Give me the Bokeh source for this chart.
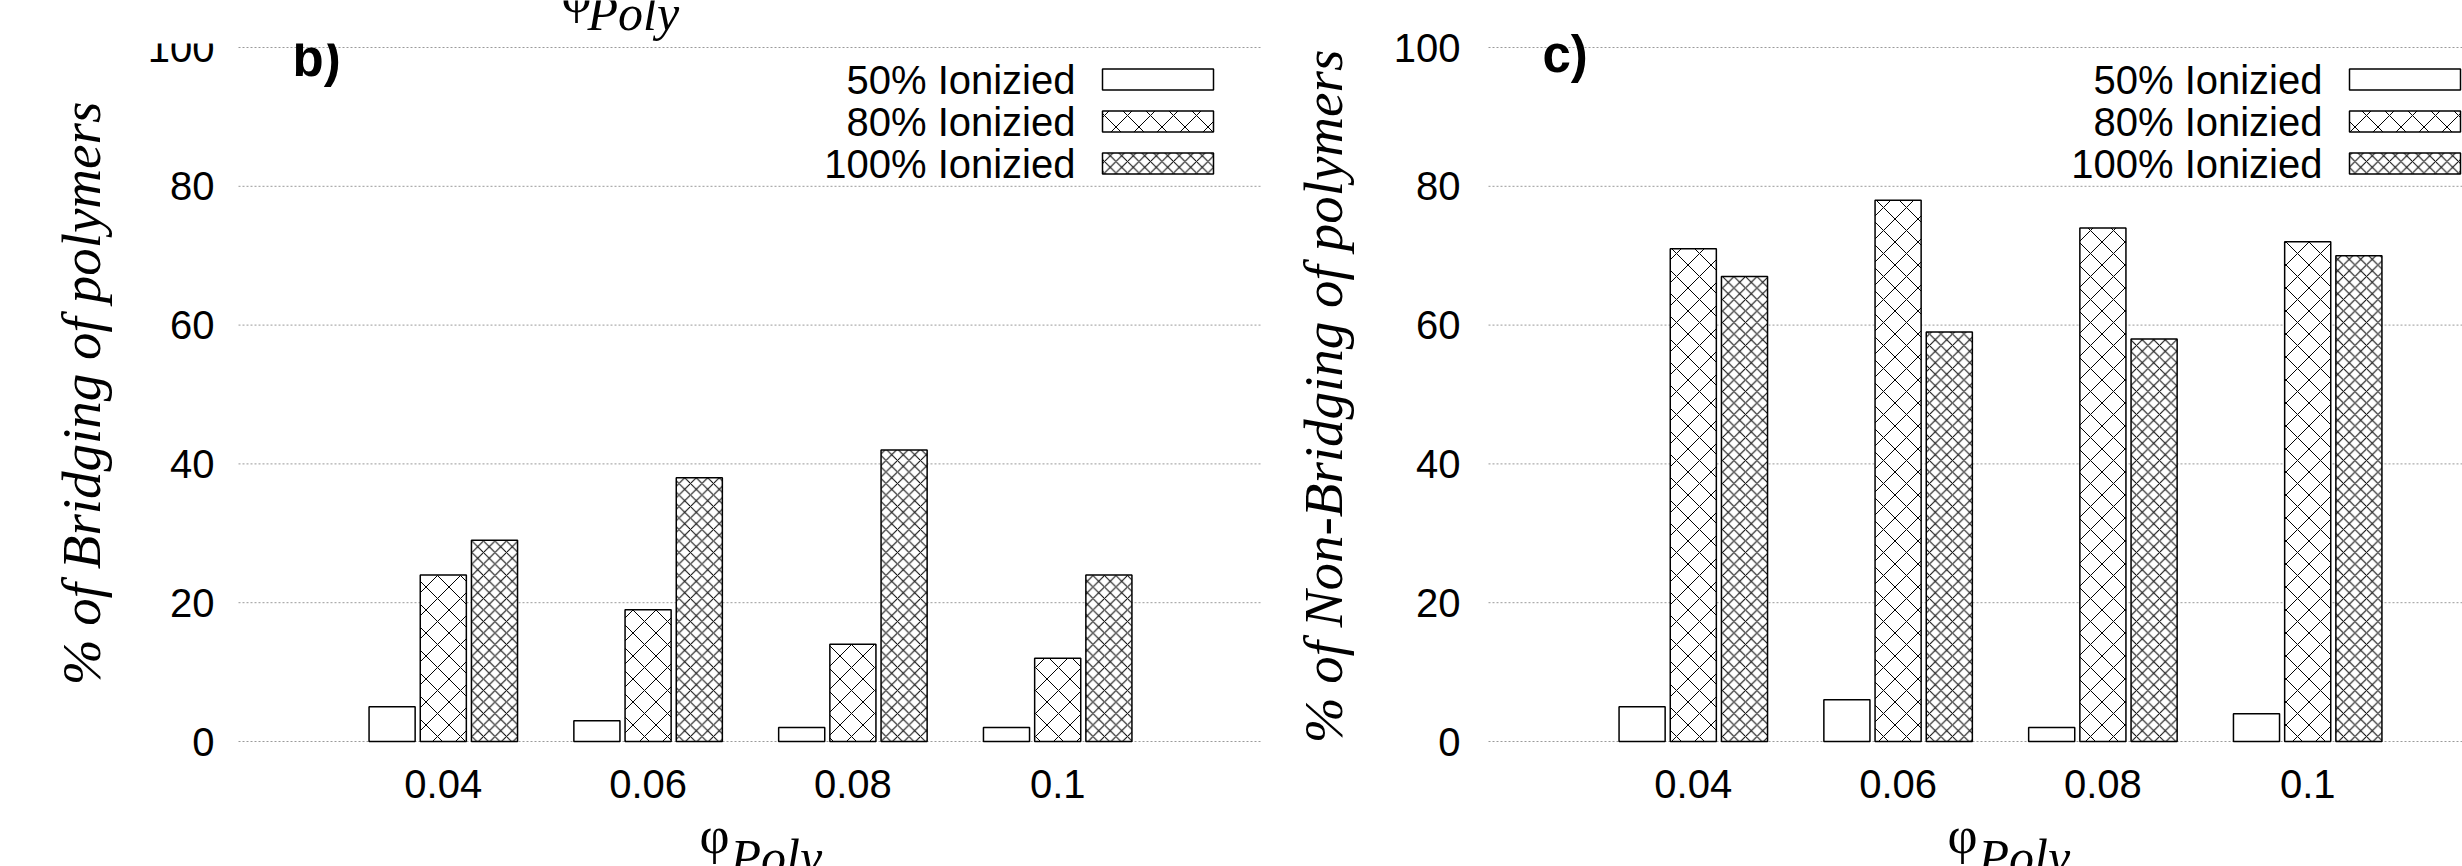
import numpy as np
from bokeh.plotting import figure
from bokeh.models import Range1d
from bokeh.core.properties import value
from bokeh.layouts import row
from bokeh.embed import file_html
from bokeh.resources import INLINE

# ---------------- data ----------------
phi_values = ["0.04", "0.06", "0.08", "0.1"]
series_names = ["50% Ionizied", "80% Ionizied", "100% Ionizied"]
bridging_50 = [5, 3, 2, 2]
bridging_80 = [24, 19, 14, 12]
bridging_100 = [29, 38, 42, 24]
non_bridging_50 = [5, 6, 2, 4]
non_bridging_80 = [71, 78, 74, 72]
non_bridging_100 = [67, 59, 58, 70]
y_ticks = [0, 20, 40, 60, 80, 100]

# ---------------- layout / style (pixels) ----------------
CANVAS_H = 866
FRAME_TOP = 47
FRAME_BOTTOM = 741
UNIT_PX = 204.8
SANS = "Liberation Sans"
SERIF = "Liberation Serif"
OFFSETS = [-0.25, 0.0, 0.25]
BAR_W = 0.225
HATCH = [None, 23, 11.5]
LEGEND_ROWS = [79, 121, 163]


def y_of(py):
    return (FRAME_BOTTOM - py) * 100.0 / (FRAME_BOTTOM - FRAME_TOP)


def make_panel(width, frame_left, series_vals, ylabel, ylabel_xy, letter,
               letter_xy, legend_text_right, legend_box, xlabel_x, ytick_right,
               top_cover=False, upper_xlabel_x=None):
    def x_of(px):
        return (px - frame_left) / UNIT_PX - 1.0

    x_end = x_of(width)
    p = figure(width=width, height=CANVAS_H,
               x_range=Range1d(x_of(0), x_end), y_range=Range1d(y_of(CANVAS_H), y_of(0)),
               output_backend="svg", toolbar_location=None,
               x_axis_type=None, y_axis_type=None,
               min_border=0, min_border_left=0, min_border_right=0,
               min_border_top=0, min_border_bottom=0)
    p.outline_line_color = None
    p.background_fill_color = "white"
    p.border_fill_color = "white"
    p.grid.visible = False

    def txt(x, y, t, size, font=SANS, style="normal", align="left",
            baseline="middle", angle=0.0):
        p.text(x=x, y=y, text=t, angle=angle, text_align=align, text_baseline=baseline,
               text_font=value(font), text_font_style=style,
               text_font_size=size, text_color="black")

    # dotted horizontal grid
    n = len(y_ticks)
    p.segment(x0=[-1.0] * n, x1=[x_end] * n, y0=y_ticks, y1=y_ticks,
              line_color="#9a9a9a", line_dash="2 2", line_width=1)

    idx = np.arange(len(phi_values))
    for k, vals in enumerate(series_vals):
        kw = dict(fill_color="white", line_color="black", line_width=1.5)
        if HATCH[k] is not None:
            kw.update(hatch_pattern="diagonal_cross", hatch_scale=HATCH[k],
                      hatch_color="black", hatch_weight=1)
        p.vbar(x=idx + OFFSETS[k], top=vals, bottom=0, width=BAR_W, **kw)
        # legend sample + text
        yc = LEGEND_ROWS[k]
        p.quad(left=[x_of(legend_box[0])], right=[x_of(legend_box[1])],
               bottom=[y_of(yc + 10.5)], top=[y_of(yc - 10.5)], **kw)
        txt([x_of(legend_text_right)], [y_of(yc)], [series_names[k]], "40px", align="right")

    # tick labels
    txt([x_of(ytick_right)] * n, y_ticks, [str(t) for t in y_ticks], "40px", align="right")
    txt(list(idx), [y_of(783)] * len(idx), phi_values, "40px", align="center")

    # y-axis title
    txt([x_of(ylabel_xy[0])], [y_of(ylabel_xy[1])], [ylabel], "55px", font=SERIF,
        style="italic", align="center", angle=np.pi / 2)
    # panel letter
    txt([x_of(letter_xy[0])], [y_of(letter_xy[1])], [letter], "51px", style="bold")
    # x-axis title  phi_Poly
    txt([x_of(xlabel_x)], [y_of(835)], ["φ"], "52px", font=SERIF)
    txt([x_of(xlabel_x + 31)], [y_of(856)], ["Poly"], "50px", font=SERIF, style="italic")

    if top_cover:
        # the panel above overlaps the top of this one
        p.quad(left=[x_of(0)], right=[x_end], bottom=[y_of(43)], top=[y_of(0)],
               fill_color="white", line_alpha=0)
        txt([x_of(upper_xlabel_x)], [y_of(-6)], ["φ"], "52px", font=SERIF)
        txt([x_of(upper_xlabel_x + 26)], [y_of(12)], ["Poly"], "50px", font=SERIF,
            style="italic")
    return p


pb = make_panel(1262, 238, [bridging_50, bridging_80, bridging_100],
                "% of Bridging of polymers", (81, 393), "b)", (292, 58),
                1075, (1102, 1213), 699, 214, top_cover=True, upper_xlabel_x=561)
pc = make_panel(1200, 226, [non_bridging_50, non_bridging_80, non_bridging_100],
                "% of Non-Bridging of polymers", (61, 396), "c)", (280, 54),
                1060, (1087, 1198), 685, 198)

layout = row(pb, pc)
open("out.html", "w").write(file_html(layout, INLINE))
